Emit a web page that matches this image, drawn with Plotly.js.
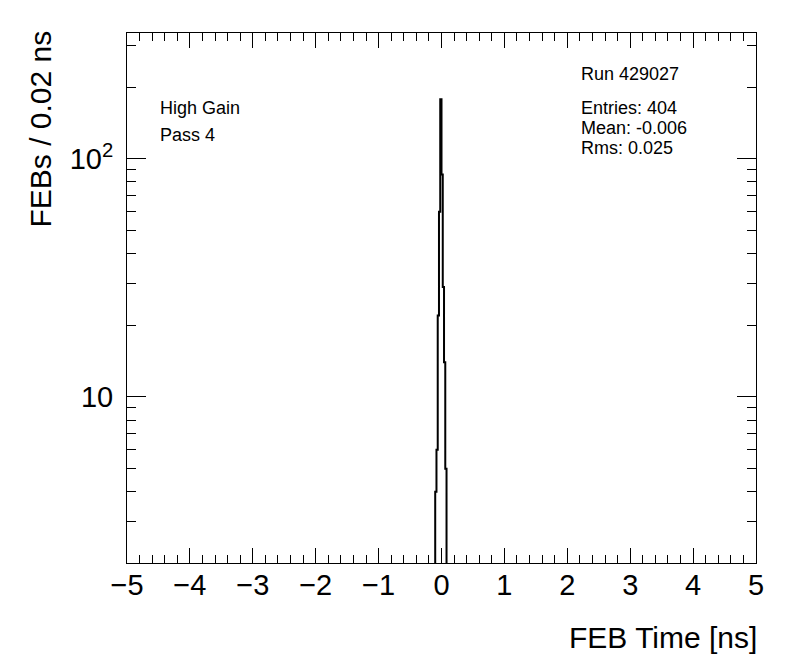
<!DOCTYPE html>
<html>
<head>
<meta charset="utf-8">
<script src="https://cdn.plot.ly/plotly-3.0.1.min.js"></script>
<style>html,body{margin:0;padding:0;background:#fff;}#plot{width:796px;height:672px;}</style>
</head>
<body>
<div id="plot"></div>
<script>
// Histogram data: bin centers (ns) and counts, bin width 0.02 ns
var binCenters = [-0.09, -0.07, -0.05, -0.03, -0.01, 0.01, 0.03, 0.05, 0.07];
var binCounts  = [4, 6, 22, 60, 178, 86, 29, 14, 5];
var binWidth = 0.02;
var xTickVals = [-5, -4, -3, -2, -1, 0, 1, 2, 3, 4, 5];
var xTickText = ['\u22125', '\u22124', '\u22123', '\u22122', '\u22121', '0', '1', '2', '3', '4', '5'];
var yTickVals = [10, 100];
var yTickText = ['10', '10<sup>2</sup>'];
var statLines = ['Run 429027', 'Entries: 404', 'Mean: -0.006', 'Rms: 0.025'];
var labelLines = ['High Gain', 'Pass 4'];

// Build step outline from bins
var floorVal = 1e-3;
var sx = [], sy = [];
sx.push(binCenters[0] - binWidth / 2); sy.push(floorVal);
for (var i = 0; i < binCenters.length; i++) {
  var lo = binCenters[i] - binWidth / 2, hi = binCenters[i] + binWidth / 2;
  sx.push(lo); sy.push(binCounts[i]);
  sx.push(hi); sy.push(binCounts[i]);
}
sx.push(binCenters[binCenters.length - 1] + binWidth / 2); sy.push(floorVal);

var font = 'Liberation Sans, Arial, Helvetica, sans-serif';

var trace = {
  x: sx, y: sy, type: 'scatter', mode: 'lines',
  line: {color: '#000', width: 2, shape: 'linear'},
  hoverinfo: 'skip', showlegend: false
};

var yMinor = [2,3,4,5,6,7,8,9,20,30,40,50,60,70,80,90,200,300];

function ann(text, x, y, xa, xs, ys, size) {
  return {xref: 'paper', yref: 'paper', x: x, y: y, xanchor: xa, yanchor: 'middle',
          xshift: xs, yshift: ys, text: text, showarrow: false,
          font: {family: font, size: size, color: '#000'}};
}

var annotations = [
  ann('FEB Time [ns]', 1, 0, 'right', 3, -74, 30),
  ann(labelLines[0], 0, 1, 'left', 31, -75, 18),
  ann(labelLines[1], 0, 1, 'left', 31, -102, 18),
  ann(statLines[0], 1, 1, 'left', -177, -41, 18),
  ann(statLines[1], 1, 1, 'left', -177, -75, 18),
  ann(statLines[2], 1, 1, 'left', -177, -95, 18),
  ann(statLines[3], 1, 1, 'left', -177, -115, 18)
];
annotations.push({xref: 'paper', yref: 'paper', x: 0, y: 1, xanchor: 'center', yanchor: 'top',
  xshift: -87, yshift: 4, textangle: -90, text: 'FEBs / 0.02 ns', showarrow: false,
  font: {family: font, size: 30, color: '#000'}});

var layout = {
  width: 796, height: 672,
  margin: {l: 127, r: 40, t: 33, b: 109},
  paper_bgcolor: '#fff', plot_bgcolor: '#fff',
  showlegend: false,
  font: {family: font, color: '#000'},
  xaxis: {
    range: [-5, 5], showgrid: false, zeroline: false,
    showline: true, linecolor: '#000', linewidth: 1, mirror: 'allticks',
    ticks: 'inside', ticklen: 15, tickwidth: 1, tickcolor: '#000',
    tickmode: 'array', tickvals: xTickVals, ticktext: xTickText,
    tickfont: {family: font, size: 29, color: '#000'},
    ticklabelstandoff: -4,
    minor: {dtick: 0.2, tick0: 0, ticks: 'inside', ticklen: 8, tickwidth: 1, tickcolor: '#000', showgrid: false}
  },
  yaxis: {
    type: 'log', range: [Math.log10(2.007), Math.log10(338)],
    showgrid: false, zeroline: false,
    showline: true, linecolor: '#000', linewidth: 1, mirror: 'allticks',
    ticks: 'inside', ticklen: 19, tickwidth: 1, tickcolor: '#000',
    tickmode: 'array', tickvals: yTickVals, ticktext: yTickText,
    tickfont: {family: font, size: 29, color: '#000'},
    ticklabelstandoff: 7,
    minor: {tickmode: 'array', tickvals: yMinor, ticks: 'inside', ticklen: 9, tickwidth: 1, tickcolor: '#000', showgrid: false}
  },
  annotations: annotations
};

Plotly.newPlot('plot', [trace], layout, {staticPlot: true, displayModeBar: false});
</script>
</body>
</html>
